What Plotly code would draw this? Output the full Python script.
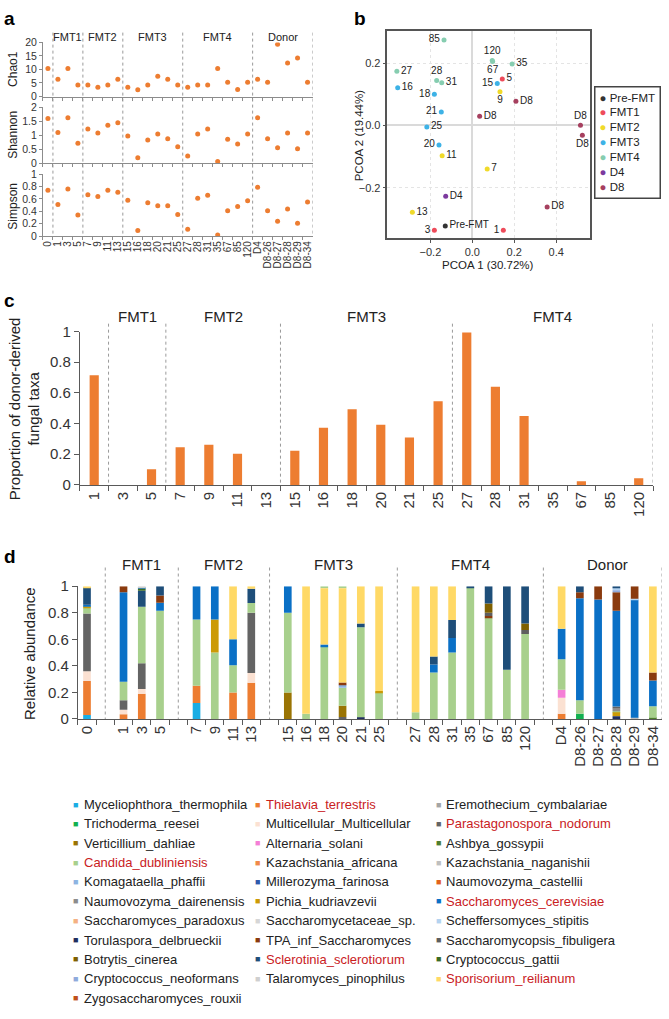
import plotly.graph_objects as go

W, H = 669, 1019
def px(x): return x / W
def py(y): return 1 - y / H

# ---------------- panel a data ----------------
a_samples = ["0","1","3","5","7","9","11","13","15","16","18","20","21","25","27","28","31",
             "35","67","85","120","D4","D8-26","D8-27","D8-28","D8-29","D8-34"]
a_chao1 = [10.4,6.4,10.4,4.3,4.3,3.4,4.3,6.4,3.4,2.5,4.3,7.5,6.4,4.3,3.4,4.3,4.3,10.4,5.3,2.6,5.3,
           6.4,5.3,19.3,12.4,14.2,5.3]
a_shannon = [1.6,1.1,1.63,0.72,1.23,1.08,1.36,1.45,0.98,0.2,0.83,1.05,0.88,0.59,0.26,1.05,1.23,0.07,
             0.86,0.69,1.05,1.63,0.88,0.56,1.08,0.52,1.08]
a_simpson = [0.74,0.51,0.76,0.34,0.67,0.64,0.74,0.71,0.58,0.09,0.54,0.49,0.49,0.35,0.11,0.61,0.66,0.02,
             0.41,0.48,0.57,0.79,0.41,0.24,0.44,0.21,0.55]
a_groups = ["FMT1","FMT2","FMT3","FMT4","Donor"]
a_group_first = ["1","7","15","27","D4"]
a_group_last = ["5","13","25","120","D8-34"]

# ---------------- panel b data ----------------
pcoa_labels = ["85","120","67","35","27","28","31","16","18","15","5","9","D8","D8","21","25","D8","D8",
               "20","11","7","D4","D8","13","Pre-FMT","3","1"]
pcoa_groups = ["FMT4","FMT4","FMT4","FMT4","FMT4","FMT4","FMT4","FMT3","FMT3","FMT3","FMT1","FMT2","D8","D8",
               "FMT3","FMT3","D8","D8","FMT3","FMT2","FMT2","D4","D8","FMT2","Pre-FMT","FMT1","FMT1"]
pcoa_x = [-0.135,0.095,0.097,0.19,-0.36,-0.17,-0.146,-0.356,-0.181,0.119,0.143,0.132,0.208,0.035,
          -0.148,-0.217,0.516,0.525,-0.159,-0.144,0.071,-0.127,0.357,-0.286,-0.129,-0.181,0.148]
pcoa_y = [0.274,0.208,0.205,0.197,0.174,0.144,0.137,0.121,0.1,0.134,0.149,0.108,0.077,0.029,
          0.043,-0.005,0.0,-0.032,-0.063,-0.098,-0.14,-0.228,-0.262,-0.279,-0.323,-0.337,-0.337]
pcoa_textpos = ["middle left","top center","bottom center","middle right","middle right","top center",
                "middle right","middle right","middle left","middle left","middle right","bottom center",
                "middle right","middle right","middle left","middle right","top center","bottom center",
                "middle left","middle right","middle right","middle right","middle right","middle right",
                "middle right","middle left","middle left"]
pcoa_legend = ["Pre-FMT","FMT1","FMT2","FMT3","FMT4","D4","D8"]
pcoa_colors = ["#333333","#EE4B5A","#F0DA2A","#3DB2E6","#86CDB0","#7C3A9E","#A6405F"]

# ---------------- panel c data ----------------
c_samples = ["1","3","5","7","9","11","13","15","16","18","20","21","25","27","28","31","35","67","85","120"]
c_values = [0.715,0,0.103,0.245,0.262,0.204,0,0.223,0.373,0.494,0.393,0.309,0.545,0.993,0.64,0.449,
            0,0.024,0,0.043]
c_groups = ["FMT1","FMT2","FMT3","FMT4"]
c_group_first = ["3","7","15","27"]
c_group_last = ["5","13","25","120"]

# ---------------- panel d data ----------------
d_samples = ["0","1","3","5","7","9","11","13","15","16","18","20","21","25","27","28","31","35","67",
             "85","120","D4","D8-26","D8-27","D8-28","D8-29","D8-34"]
d_gap_after = ["0","5","13","25","120"]
d_groups = ["FMT1","FMT2","FMT3","FMT4","Donor"]
d_group_first = ["1","7","15","27","D4"]
d_group_last = ["5","13","25","120","D8-34"]

# composition of each sample, bottom to top: (taxon, fraction)
comp_0 = [("Myceliophthora_thermophila",0.03),("Thielavia_terrestris",0.255),("Multicellular_Multicellular",0.075),
          ("Parastagonospora_nodorum",0.435),("Candida_dubliniensis",0.04),("Pichia_kudriavzevii",0.01),
          ("Saccharomyces_cerevisiae",0.015),("Sclerotinia_sclerotiorum",0.13),("Sporisorium_reilianum",0.01)]
comp_1 = [("Thielavia_terrestris",0.035),("Multicellular_Multicellular",0.035),("Parastagonospora_nodorum",0.07),
          ("Candida_dubliniensis",0.14),("Saccharomyces_cerevisiae",0.675),("TPA_inf_Saccharomyces",0.045)]
comp_3 = [("Thielavia_terrestris",0.19),("Multicellular_Multicellular",0.035),("Parastagonospora_nodorum",0.195),
          ("Candida_dubliniensis",0.425),("Sclerotinia_sclerotiorum",0.12),("Cryptococcus_gattii",0.015),
          ("Saccharomyces_cerevisiae",0.01),("Talaromyces_pinophilus",0.01)]
comp_5 = [("Candida_dubliniensis",0.815),("Saccharomyces_cerevisiae",0.06),("TPA_inf_Saccharomyces",0.055),
          ("Sclerotinia_sclerotiorum",0.07)]
comp_7 = [("Myceliophthora_thermophila",0.12),("Thielavia_terrestris",0.13),("Candida_dubliniensis",0.5),
          ("Saccharomyces_cerevisiae",0.25)]
comp_9 = [("Candida_dubliniensis",0.5),("Pichia_kudriavzevii",0.25),("Saccharomyces_cerevisiae",0.25)]
comp_11 = [("Thielavia_terrestris",0.2),("Candida_dubliniensis",0.205),("Saccharomyces_cerevisiae",0.195),
           ("Sporisorium_reilianum",0.4)]
comp_13 = [("Thielavia_terrestris",0.272),("Multicellular_Multicellular",0.075),("Parastagonospora_nodorum",0.453),
           ("Candida_dubliniensis",0.074),("Sclerotinia_sclerotiorum",0.106),("Sporisorium_reilianum",0.02)]
comp_15 = [("Verticillium_dahliae",0.2),("Candida_dubliniensis",0.6),("Saccharomyces_cerevisiae",0.2)]
comp_16 = [("Candida_dubliniensis",0.04),("Sporisorium_reilianum",0.96)]
comp_18 = [("Candida_dubliniensis",0.545),("Saccharomyces_cerevisiae",0.015),("Sporisorium_reilianum",0.425),
           ("Candida_dubliniensis",0.015)]
comp_20 = [("Parastagonospora_nodorum",0.015),("Verticillium_dahliae",0.085),("Candida_dubliniensis",0.135),
           ("Komagataella_phaffii",0.025),("TPA_inf_Saccharomyces",0.015),("Sporisorium_reilianum",0.71),
           ("Candida_dubliniensis",0.015)]
comp_21 = [("Torulaspora_delbrueckii",0.01),("Candida_dubliniensis",0.68),("Sclerotinia_sclerotiorum",0.03),
           ("Sporisorium_reilianum",0.28)]
comp_25 = [("Candida_dubliniensis",0.2),("Pichia_kudriavzevii",0.01),("Sporisorium_reilianum",0.79)]
comp_27 = [("Candida_dubliniensis",0.05),("Sporisorium_reilianum",0.95)]
comp_28 = [("Candida_dubliniensis",0.35),("Saccharomyces_cerevisiae",0.06),("Sclerotinia_sclerotiorum",0.06),
           ("Sporisorium_reilianum",0.53)]
comp_31 = [("Candida_dubliniensis",0.5),("Saccharomyces_cerevisiae",0.11),("Sclerotinia_sclerotiorum",0.135),
           ("Sporisorium_reilianum",0.255)]
comp_35 = [("Candida_dubliniensis",0.99),("Sclerotinia_sclerotiorum",0.01)]
comp_67 = [("Candida_dubliniensis",0.76),("TPA_inf_Saccharomyces",0.015),("Saccharomycopsis_fibuligera",0.025),
           ("Botrytis_cinerea",0.07),("Sclerotinia_sclerotiorum",0.13)]
comp_85 = [("Candida_dubliniensis",0.37),("Sclerotinia_sclerotiorum",0.63)]
comp_120 = [("Candida_dubliniensis",0.64),("Saccharomycopsis_fibuligera",0.03),("Botrytis_cinerea",0.05),
            ("Sclerotinia_sclerotiorum",0.28)]
comp_D4 = [("Thielavia_terrestris",0.04),("Multicellular_Multicellular",0.12),("Alternaria_solani",0.06),
           ("Candida_dubliniensis",0.23),("Saccharomyces_cerevisiae",0.23),("Sporisorium_reilianum",0.32)]
comp_D8_26 = [("Trichoderma_reesei",0.04),("Candida_dubliniensis",0.10),("Saccharomyces_cerevisiae",0.77),
              ("TPA_inf_Saccharomyces",0.045),("Sclerotinia_sclerotiorum",0.045)]
comp_D8_27 = [("Saccharomyces_cerevisiae",0.90),("TPA_inf_Saccharomyces",0.10)]
comp_D8_28 = [("Torulaspora_delbrueckii",0.02),("Pichia_kudriavzevii",0.03),("Candida_dubliniensis",0.012),
              ("Naumovozyma_dairenensis",0.015),("Parastagonospora_nodorum",0.017),
              ("Saccharomyces_cerevisiae",0.721),("TPA_inf_Saccharomyces",0.14),("Cryptococcus_neoformans",0.015),
              ("Scheffersomyces_stipitis",0.02),("Sclerotinia_sclerotiorum",0.01)]
comp_D8_29 = [("Kazachstania_naganishii",0.01),("Saccharomyces_cerevisiae",0.89),("Scheffersomyces_stipitis",0.005),
              ("TPA_inf_Saccharomyces",0.095)]
comp_D8_34 = [("Ashbya_gossypii",0.01),("Candida_dubliniensis",0.085),("Saccharomyces_cerevisiae",0.195),
              ("TPA_inf_Saccharomyces",0.06),("Sporisorium_reilianum",0.65)]
d_comps = [comp_0, comp_1, comp_3, comp_5, comp_7, comp_9, comp_11, comp_13, comp_15, comp_16, comp_18,
           comp_20, comp_21, comp_25, comp_27, comp_28, comp_31, comp_35, comp_67, comp_85, comp_120,
           comp_D4, comp_D8_26, comp_D8_27, comp_D8_28, comp_D8_29, comp_D8_34]

taxa = ["Myceliophthora_thermophila","Thielavia_terrestris","Eremothecium_cymbalariae",
        "Trichoderma_reesei","Multicellular_Multicellular","Parastagonospora_nodorum",
        "Verticillium_dahliae","Alternaria_solani","Ashbya_gossypii",
        "Candida_dubliniensis","Kazachstania_africana","Kazachstania_naganishii",
        "Komagataella_phaffii","Millerozyma_farinosa","Naumovozyma_castellii",
        "Naumovozyma_dairenensis","Pichia_kudriavzevii","Saccharomyces_cerevisiae",
        "Saccharomyces_paradoxus","Saccharomycetaceae_sp.","Scheffersomyces_stipitis",
        "Torulaspora_delbrueckii","TPA_inf_Saccharomyces","Saccharomycopsis_fibuligera",
        "Botrytis_cinerea","Sclerotinia_sclerotiorum","Cryptococcus_gattii",
        "Cryptococcus_neoformans","Talaromyces_pinophilus","Sporisorium_reilianum",
        "Zygosaccharomyces_rouxii"]
taxa_colors = ["#1AADE4","#ED7D31","#A5A5A5",
               "#12B050","#FBE1D2","#646464",
               "#9A7404","#F47FD6","#4E7D2E",
               "#A8D08D","#F0894A","#BFBFBF",
               "#8DB4E2","#2E5AAC","#E2621B",
               "#8C8C8C","#CC9A06","#0A70C6",
               "#F4B183","#D6D6D6","#B4D3F0",
               "#1F2E5E","#8A3A0E","#5E5E5E",
               "#7F6000","#1E4E79","#3B6B24",
               "#8FAADC","#CFCFCF","#FFD966",
               "#C0501A"]
taxa_highlight = ["Thielavia_terrestris","Parastagonospora_nodorum","Candida_dubliniensis",
                  "Saccharomyces_cerevisiae","Sclerotinia_sclerotiorum","Sporisorium_reilianum"]

# ---------------- figure ----------------
FONT = "Liberation Sans, Arial, sans-serif"
ORANGE = "#ED7D31"
fig = go.Figure()

# panel a
for i, vals in enumerate([a_chao1, a_shannon, a_simpson]):
    sfx = "" if i == 0 else str(i + 1)
    fig.add_trace(go.Scatter(x=a_samples, y=vals, mode="markers",
                             marker=dict(color=ORANGE, size=5),
                             xaxis="x" + sfx, yaxis="y" + sfx, showlegend=False))

# panel b
for g, col in zip(pcoa_legend, pcoa_colors):
    idx = [k for k, gg in enumerate(pcoa_groups) if gg == g]
    fig.add_trace(go.Scatter(x=[pcoa_x[k] for k in idx], y=[pcoa_y[k] for k in idx],
                             text=[pcoa_labels[k] for k in idx],
                             textposition=[pcoa_textpos[k] for k in idx],
                             mode="markers+text", marker=dict(color=col, size=5),
                             textfont=dict(size=10, color="#222"),
                             xaxis="x4", yaxis="y4", showlegend=False, cliponaxis=False))

# panel c
fig.add_trace(go.Bar(x=c_samples, y=c_values, marker=dict(color=ORANGE, line=dict(width=0)),
                     width=0.32, xaxis="x5", yaxis="y5", showlegend=False))

# panel d : categories with gaps
d_cats = []
gap_idx = []
for s in d_samples:
    d_cats.append(s)
    if s in d_gap_after:
        gap_idx.append(len(d_cats))
        d_cats.append(" " * (len(gap_idx)))
taxa_color_map = dict(zip(taxa, taxa_colors))
seg = {t: ([], [], []) for t in taxa}
for s, comp in zip(d_samples, d_comps):
    base = 0.0
    for t, v in comp:
        seg[t][0].append(s)
        seg[t][1].append(v)
        seg[t][2].append(base)
        base += v
for t in taxa:
    xs, ys, bs = seg[t]
    if xs:
        fig.add_trace(go.Bar(x=xs, y=ys, base=bs, width=0.42,
                             marker=dict(color=taxa_color_map[t], line=dict(width=0)),
                             xaxis="x6", yaxis="y6", showlegend=False, name=t))

# ---------------- axes ----------------
AX_A = "#8c8c8c"
AX_C = "#595959"
tf_a = dict(size=10.5, color="#333")
cat_common = dict(type="category", categoryorder="array", showgrid=False, zeroline=False,
                  showline=True, ticks="outside", tickson="boundaries")

a_dom_y = [(89, 34, [0, 20], [0, 5, 10, 15, 20]),
           (157, 100, [0, 2], [0, 0.5, 1, 1.5, 2]),
           (231, 168, [0, 1], [0, 0.2, 0.4, 0.6, 0.8, 1])]
layout_axes = {}
for i, (yb, yt, rng, tv) in enumerate(a_dom_y):
    sfx = "" if i == 0 else str(i + 1)
    layout_axes["xaxis" + sfx] = dict(cat_common, categoryarray=a_samples, range=[-0.5, 26.5],
                                      domain=[px(42), px(312)], anchor="y" + sfx,
                                      tickmode="array", tickvals=a_samples, ticktext=a_samples,
                                      linecolor=AX_A, tickcolor=AX_A, ticklen=3,
                                      showticklabels=(i == 2), tickangle=-90,
                                      tickfont=dict(size=10, color="#333"))
    layout_axes["yaxis" + sfx] = dict(domain=[py(yb), py(yt)], range=rng, tickvals=tv,
                                      anchor="x" + sfx, showline=True, linecolor=AX_A,
                                      tickcolor=AX_A, ticks="outside", ticklen=3, showgrid=False,
                                      zeroline=False, tickfont=tf_a)

b_axis = dict(showline=True, mirror=True, linecolor="#555", linewidth=1.5, ticks="outside", ticklen=3,
              tickcolor="#555", showgrid=True, gridcolor="#e4e4e4", griddash="dot",
              zeroline=True, zerolinecolor="#dadada", zerolinewidth=1.5, tickformat=".1f",
              tickfont=dict(size=11, color="#333"))
layout_axes["xaxis4"] = dict(b_axis, domain=[px(387), px(590)], range=[-0.405, 0.562], anchor="y4",
                             tickvals=[-0.2, 0, 0.2, 0.4])
layout_axes["yaxis4"] = dict(b_axis, domain=[py(233), py(22)], range=[-0.362, 0.304], anchor="x4",
                             tickvals=[-0.2, 0, 0.2])

tf_c = dict(size=15, color="#333")
layout_axes["xaxis5"] = dict(cat_common, categoryarray=c_samples, range=[-0.5, 19.5],
                             domain=[px(79), px(653)], anchor="y5", linecolor=AX_C, tickcolor=AX_C,
                             ticklen=5, tickangle=-90, tickfont=tf_c)
layout_axes["yaxis5"] = dict(domain=[py(484), py(328)], range=[0, 1], dtick=0.2, anchor="x5",
                             showline=True, linecolor=AX_C, tickcolor=AX_C, ticks="outside", ticklen=5,
                             showgrid=False, zeroline=False, tickfont=tf_c)
layout_axes["xaxis6"] = dict(cat_common, categoryarray=d_cats, range=[-0.5, len(d_cats) - 0.5],
                             domain=[px(77), px(662)], anchor="y6", linecolor=AX_C, tickcolor=AX_C,
                             ticklen=5, tickangle=-90, tickfont=tf_c)
layout_axes["yaxis6"] = dict(domain=[py(722), py(587)], range=[0, 1], dtick=0.2, anchor="x6",
                             showline=True, linecolor=AX_C, tickcolor=AX_C, ticks="outside", ticklen=5,
                             showgrid=False, zeroline=False, tickfont=tf_c)

# ---------------- dividers & annotations ----------------
shapes = []
ann = []
def vline(xref, xv, y0, y1):
    shapes.append(dict(type="line", xref=xref, yref="paper", x0=xv, x1=xv, y0=py(y0), y1=py(y1),
                       line=dict(color="#9a9a9a", width=1, dash="dot")))

for xv in [0.5, 3.5, 7.5, 13.5, 20.5, 26.5]:
    vline("x", xv, 24, 231)
for xv in [0.5, 2.5, 6.5, 12.5, 19.5]:
    vline("x5", xv, 320, 484)
for gi in gap_idx + [len(d_cats) - 0.5]:
    vline("x6", gi, 568, 722)

def group_labels(xref, cats, names, firsts, lasts, ypix, size):
    for n, f, l in zip(names, firsts, lasts):
        xc = (cats.index(f) + cats.index(l)) / 2
        ann.append(dict(text=n, xref=xref, yref="paper", x=xc, y=py(ypix), showarrow=False,
                        font=dict(size=size, color="#222"), xanchor="center", yanchor="middle"))

group_labels("x", a_samples, a_groups, a_group_first, a_group_last, 28, 11)
group_labels("x5", c_samples, c_groups, c_group_first, c_group_last, 313, 15)
group_labels("x6", d_cats, d_groups, d_group_first, d_group_last, 565, 15)

def txt(t, x, y, size, angle=0, color="#222", bold=False, xanchor="center"):
    ann.append(dict(text=("<b>%s</b>" % t) if bold else t, xref="paper", yref="paper",
                    x=px(x), y=py(y), showarrow=False, textangle=angle,
                    font=dict(size=size, color=color), xanchor=xanchor, yanchor="middle"))

# panel letters
txt("a", 9, 10, 19, bold=True, color="#000")
txt("b", 360, 10, 19, bold=True, color="#000")
txt("c", 9, 296, 19, bold=True, color="#000")
txt("d", 9, 557, 19, bold=True, color="#000")

# axis titles
txt("Chao1", 12, 61, 12, angle=-90)
txt("Shannon", 12, 128, 12, angle=-90)
txt("Simpson", 12, 200, 12, angle=-90)
txt("PCOA 1 (30.72%)", 488, 260, 11.5)
txt("PCOA 2 (19.44%)", 358, 128, 11.5, angle=-90)
txt("Proportion of donor-derived<br>fungal taxa", 23, 406, 15, angle=-90)
txt("Relative abundance", 28, 655, 15, angle=-90)

# panel b legend box
leg_lines = ['<span style="color:%s">\u25CF</span> %s' % (c, g) for g, c in zip(pcoa_legend, pcoa_colors)]
ann.append(dict(text="<br>".join(leg_lines), xref="paper", yref="paper", x=px(594), y=py(78),
                xanchor="left", yanchor="top", align="left", showarrow=False,
                font=dict(size=11.5, color="#222"), bordercolor="#444", borderwidth=1.5,
                borderpad=4, bgcolor="white"))

# panel d legend
col_x = [75, 257, 438]
for i, t in enumerate(taxa):
    r, c = divmod(i, 3)
    yy = 809 + r * 19.7
    ann.append(dict(text="\u25A0", xref="paper", yref="paper", x=px(col_x[c]), y=py(yy),
                    showarrow=False, font=dict(size=9, color=taxa_colors[i]),
                    xanchor="center", yanchor="middle"))
    ann.append(dict(text=t, xref="paper", yref="paper", x=px(col_x[c] + 6), y=py(yy),
                    showarrow=False, xanchor="left", yanchor="middle",
                    font=dict(size=13, color="#C9211E" if t in taxa_highlight else "#222")))

fig.update_layout(width=W, height=H, autosize=False, margin=dict(l=0, r=0, t=0, b=0),
                  paper_bgcolor="white", plot_bgcolor="white", showlegend=False,
                  barmode="overlay", font=dict(family=FONT, color="#222"),
                  shapes=shapes, annotations=ann, **layout_axes)

fig.write_html("out.html", config={"displayModeBar": False},
               post_script="document.body.style.margin='0';document.body.style.padding='0';"
                           "document.documentElement.style.overflow='hidden';")
